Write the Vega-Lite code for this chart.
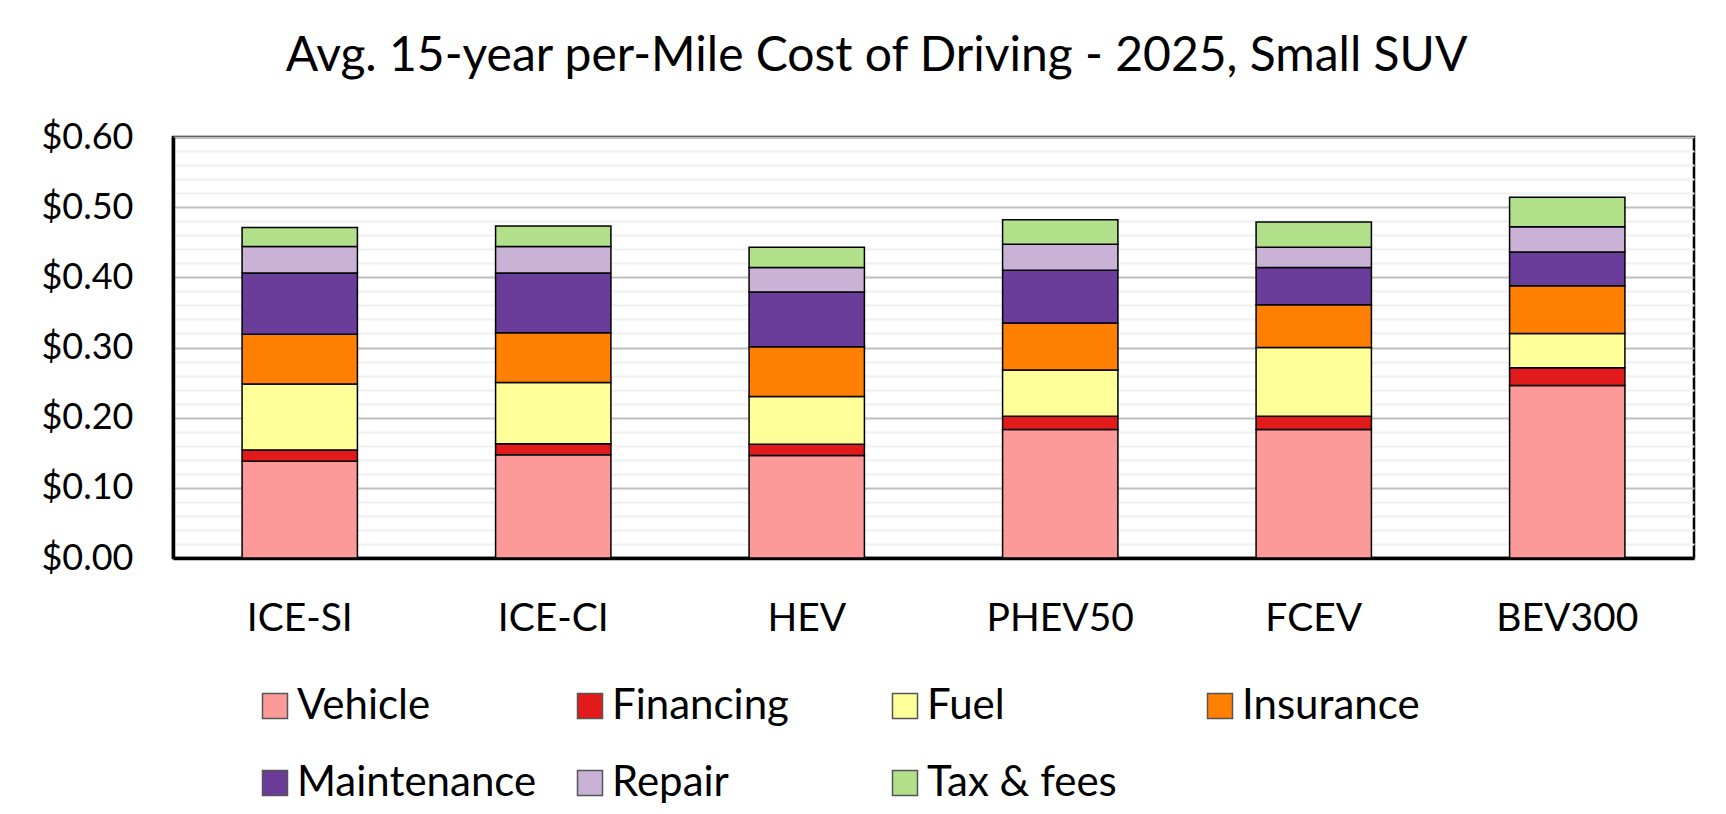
{
  "$schema": "https://vega.github.io/schema/vega-lite/v6.json",
  "autosize": {"type": "none"},
  "width": 1521,
  "height": 421,
  "padding": {"left": 173, "top": 137, "right": 32, "bottom": 256},
  "background": "white",
  "title": {
    "text": "Avg. 15-year per-Mile Cost of Driving - 2025, Small SUV",
    "font": "Lato",
    "fontSize": 48,
    "fontWeight": "normal",
    "color": "black",
    "anchor": "middle",
    "frame": "group",
    "dx": -57,
    "baseline": "alphabetic",
    "offset": 0
  },
  "config": {
    "view": {"stroke": "black", "strokeWidth": 2.5},
    "font": "Lato"
  },
  "data": {
    "values": [
      {"vehicle": "ICE-SI", "category": "Vehicle", "cost": 0.138},
      {"vehicle": "ICE-SI", "category": "Financing", "cost": 0.016},
      {"vehicle": "ICE-SI", "category": "Fuel", "cost": 0.094},
      {"vehicle": "ICE-SI", "category": "Insurance", "cost": 0.071},
      {"vehicle": "ICE-SI", "category": "Maintenance", "cost": 0.087},
      {"vehicle": "ICE-SI", "category": "Repair", "cost": 0.038},
      {"vehicle": "ICE-SI", "category": "Tax & fees", "cost": 0.027},
      {"vehicle": "ICE-CI", "category": "Vehicle", "cost": 0.147},
      {"vehicle": "ICE-CI", "category": "Financing", "cost": 0.016},
      {"vehicle": "ICE-CI", "category": "Fuel", "cost": 0.087},
      {"vehicle": "ICE-CI", "category": "Insurance", "cost": 0.071},
      {"vehicle": "ICE-CI", "category": "Maintenance", "cost": 0.085},
      {"vehicle": "ICE-CI", "category": "Repair", "cost": 0.038},
      {"vehicle": "ICE-CI", "category": "Tax & fees", "cost": 0.029},
      {"vehicle": "HEV", "category": "Vehicle", "cost": 0.146},
      {"vehicle": "HEV", "category": "Financing", "cost": 0.016},
      {"vehicle": "HEV", "category": "Fuel", "cost": 0.068},
      {"vehicle": "HEV", "category": "Insurance", "cost": 0.071},
      {"vehicle": "HEV", "category": "Maintenance", "cost": 0.078},
      {"vehicle": "HEV", "category": "Repair", "cost": 0.035},
      {"vehicle": "HEV", "category": "Tax & fees", "cost": 0.029},
      {"vehicle": "PHEV50", "category": "Vehicle", "cost": 0.183},
      {"vehicle": "PHEV50", "category": "Financing", "cost": 0.019},
      {"vehicle": "PHEV50", "category": "Fuel", "cost": 0.066},
      {"vehicle": "PHEV50", "category": "Insurance", "cost": 0.067},
      {"vehicle": "PHEV50", "category": "Maintenance", "cost": 0.075},
      {"vehicle": "PHEV50", "category": "Repair", "cost": 0.037},
      {"vehicle": "PHEV50", "category": "Tax & fees", "cost": 0.035},
      {"vehicle": "FCEV", "category": "Vehicle", "cost": 0.183},
      {"vehicle": "FCEV", "category": "Financing", "cost": 0.019},
      {"vehicle": "FCEV", "category": "Fuel", "cost": 0.098},
      {"vehicle": "FCEV", "category": "Insurance", "cost": 0.061},
      {"vehicle": "FCEV", "category": "Maintenance", "cost": 0.053},
      {"vehicle": "FCEV", "category": "Repair", "cost": 0.029},
      {"vehicle": "FCEV", "category": "Tax & fees", "cost": 0.036},
      {"vehicle": "BEV300", "category": "Vehicle", "cost": 0.246},
      {"vehicle": "BEV300", "category": "Financing", "cost": 0.025},
      {"vehicle": "BEV300", "category": "Fuel", "cost": 0.049},
      {"vehicle": "BEV300", "category": "Insurance", "cost": 0.068},
      {"vehicle": "BEV300", "category": "Maintenance", "cost": 0.048},
      {"vehicle": "BEV300", "category": "Repair", "cost": 0.036},
      {"vehicle": "BEV300", "category": "Tax & fees", "cost": 0.042}
    ]
  },
  "mark": {"type": "bar", "stroke": "black", "strokeWidth": 1.5},
  "encoding": {
    "x": {
      "field": "vehicle",
      "type": "nominal",
      "sort": ["ICE-SI", "ICE-CI", "HEV", "PHEV50", "FCEV", "BEV300"],
      "scale": {"paddingInner": 0.545, "paddingOuter": 0.2725},
      "axis": {
        "title": null,
        "labelAngle": 0,
        "labelFont": "Lato",
        "labelFontSize": 39,
        "labelColor": "black",
        "labelPadding": 41,
        "ticks": false,
        "tickSize": 0,
        "domain": true,
        "domainColor": "black",
        "domainWidth": 3.5,
        "grid": false
      }
    },
    "y": {
      "field": "cost",
      "type": "quantitative",
      "stack": "zero",
      "scale": {"domain": [0, 0.6], "nice": false},
      "axis": {
        "title": null,
        "values": [0, 0.02, 0.04, 0.06, 0.08, 0.1, 0.12, 0.14, 0.16, 0.18, 0.2, 0.22, 0.24, 0.26, 0.28, 0.3, 0.32, 0.34, 0.36, 0.38, 0.4, 0.42, 0.44, 0.46, 0.48, 0.5, 0.52, 0.54, 0.56, 0.58, 0.6],
        "labelExpr": "round(datum.value * 100) % 10 === 0 ? format(datum.value, '$.2f') : ''",
        "labelFont": "Lato",
        "labelFontSize": 36,
        "labelColor": "black",
        "labelPadding": 40,
        "ticks": false,
        "tickSize": 0,
        "domain": true,
        "domainColor": "black",
        "domainWidth": 3.5,
        "grid": true,
        "gridColor": {
          "condition": {"test": "round(datum.value * 100) % 10 === 0", "value": "#bfbfbf"},
          "value": "#f0f0f0"
        },
        "gridWidth": 2
      }
    },
    "color": {
      "field": "category",
      "type": "nominal",
      "sort": ["Vehicle", "Financing", "Fuel", "Insurance", "Maintenance", "Repair", "Tax & fees"],
      "scale": {
        "domain": ["Vehicle", "Financing", "Fuel", "Insurance", "Maintenance", "Repair", "Tax & fees"],
        "range": ["#fb9a99", "#e31a1c", "#ffff99", "#ff7f00", "#6a3d9a", "#cab2d6", "#b2df8a"]
      },
      "legend": {
        "title": null,
        "orient": "none",
        "legendX": 81,
        "legendY": 548,
        "direction": "horizontal",
        "columns": 4,
        "gridAlign": "all",
        "columnPadding": 32,
        "rowPadding": 35,
        "padding": 0,
        "symbolType": "square",
        "symbolSize": 625,
        "symbolStrokeColor": "#555555",
        "symbolStrokeWidth": 1.5,
        "symbolOpacity": 1,
        "labelFont": "Lato",
        "labelFontSize": 42,
        "labelColor": "black",
        "labelOffset": 1,
        "labelLimit": 400
      }
    },
    "order": {"field": "category_order", "type": "quantitative"}
  }
}
